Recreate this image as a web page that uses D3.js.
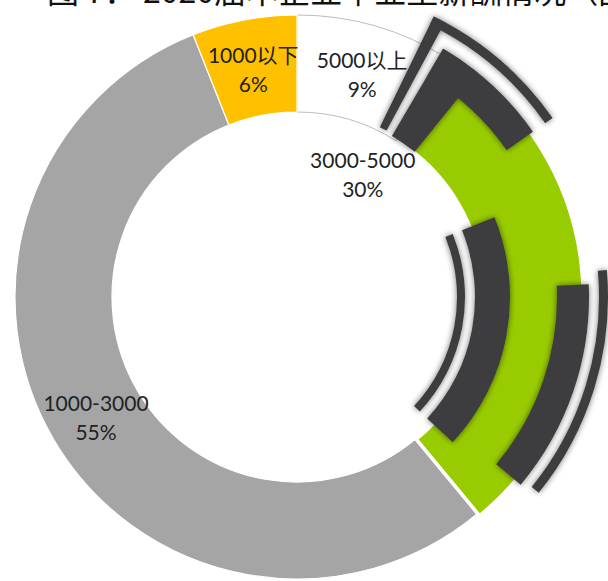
<!DOCTYPE html>
<html><head><meta charset="utf-8">
<script src="https://cdn.jsdelivr.net/npm/d3@7"></script>
<style>body{margin:0;background:#fff;} svg{display:block}</style>
</head><body>
<svg id="c" width="608" height="581"></svg>
<script>
// ---- data ----
const categories = ["5000以上", "3000-5000", "1000-3000", "1000以下"];
const shares = [9, 30, 55, 6];
const percentLabels = ["9%", "30%", "55%", "6%"];
const sliceColors = ["#ffffff", "#99cc00", "#a5a5a5", "#ffc000"];
const explode = [0, 3, 0, 0];
const titleText = "图 7： 2020届本企业毕业生薪酬情况（图";

// decorative bracket arcs (degrees / radii)
const decoInner = [160, 178, 260, 302, 303, 189, 256, 187];
const decoOuter = [168, 213, 292, 311, 312, 312, 288, 288];
const decoStart = [68, 68, 87.5, 85, 26, 26, 30.5, 30.5];
const decoEnd   = [133, 133, 130, 129, 55, 28.3, 55, 39];

const W = 608, H = 581, cx = 297, cy = 297, R = 282, r0 = 185;
const rad = d => d * Math.PI / 180;
const svg = d3.select("#c");
const defs = svg.append("defs");
const f = defs.append("filter").attr("id", "glow")
  .attr("x", "-20%").attr("y", "-20%").attr("width", "140%").attr("height", "140%");
f.append("feGaussianBlur").attr("in", "SourceAlpha").attr("stdDeviation", 3).attr("result", "b");
f.append("feComponentTransfer").attr("in", "b").attr("result", "bo")
  .append("feFuncA").attr("type", "linear").attr("slope", 0.55);
const fm = f.append("feMerge");
fm.append("feMergeNode").attr("in", "bo");
fm.append("feMergeNode").attr("in", "SourceGraphic");

// title (cropped at top as in reference)
svg.append("text").attr("x", 47).attr("y", 3)
  .attr("font-family", "'Noto Sans CJK SC', sans-serif").attr("font-size", 32)
  .attr("fill", "#111").attr("xml:space", "preserve").style("white-space", "pre")
  .text(titleText);

const g = svg.append("g").attr("transform", `translate(${cx},${cy})`);
const pie = d3.pie().sort(null).value(d => d)(shares);
const arc = d3.arc().innerRadius(r0).outerRadius(R);

g.selectAll("path.slice").data(pie).join("path").attr("class", "slice")
  .attr("transform", (d, i) => {
    const p = d3.pointRadial((d.startAngle + d.endAngle) / 2, explode[i]);
    return `translate(${p[0]},${p[1]})`;
  })
  .attr("d", arc)
  .attr("fill", (d, i) => sliceColors[i])
  .attr("stroke", (d, i) => i === 0 ? "#bdbdbd" : "#ffffff")
  .attr("stroke-width", (d, i) => i === 0 ? 1 : 1.2);

// decorative dark brackets
const dg = g.append("g").attr("filter", "url(#glow)");
const darc = d3.arc();
decoInner.forEach((ri, i) => {
  dg.append("path").attr("d", darc({
    innerRadius: ri, outerRadius: decoOuter[i],
    startAngle: rad(decoStart[i]), endAngle: rad(decoEnd[i])
  })).attr("fill", "#3d3d40");
});

// labels
const labelArc = d3.arc().innerRadius(r0).outerRadius(R);
const lg = g.append("g").attr("font-family", "Lato, 'Noto Sans CJK SC', sans-serif")
  .attr("font-size", 21).attr("fill", "#222").attr("text-anchor", "middle");
pie.forEach((d, i) => {
  let p = labelArc.centroid(d);
  if (i === 1) p = d3.pointRadial(rad(28), 140);
  const t = lg.append("text").attr("transform", `translate(${p[0]},${p[1]})`);
  t.append("tspan").attr("x", 0).attr("y", -5).text(categories[i]);
  t.append("tspan").attr("x", 0).attr("y", 24).text(percentLabels[i]);
});
</script>
</body></html>
